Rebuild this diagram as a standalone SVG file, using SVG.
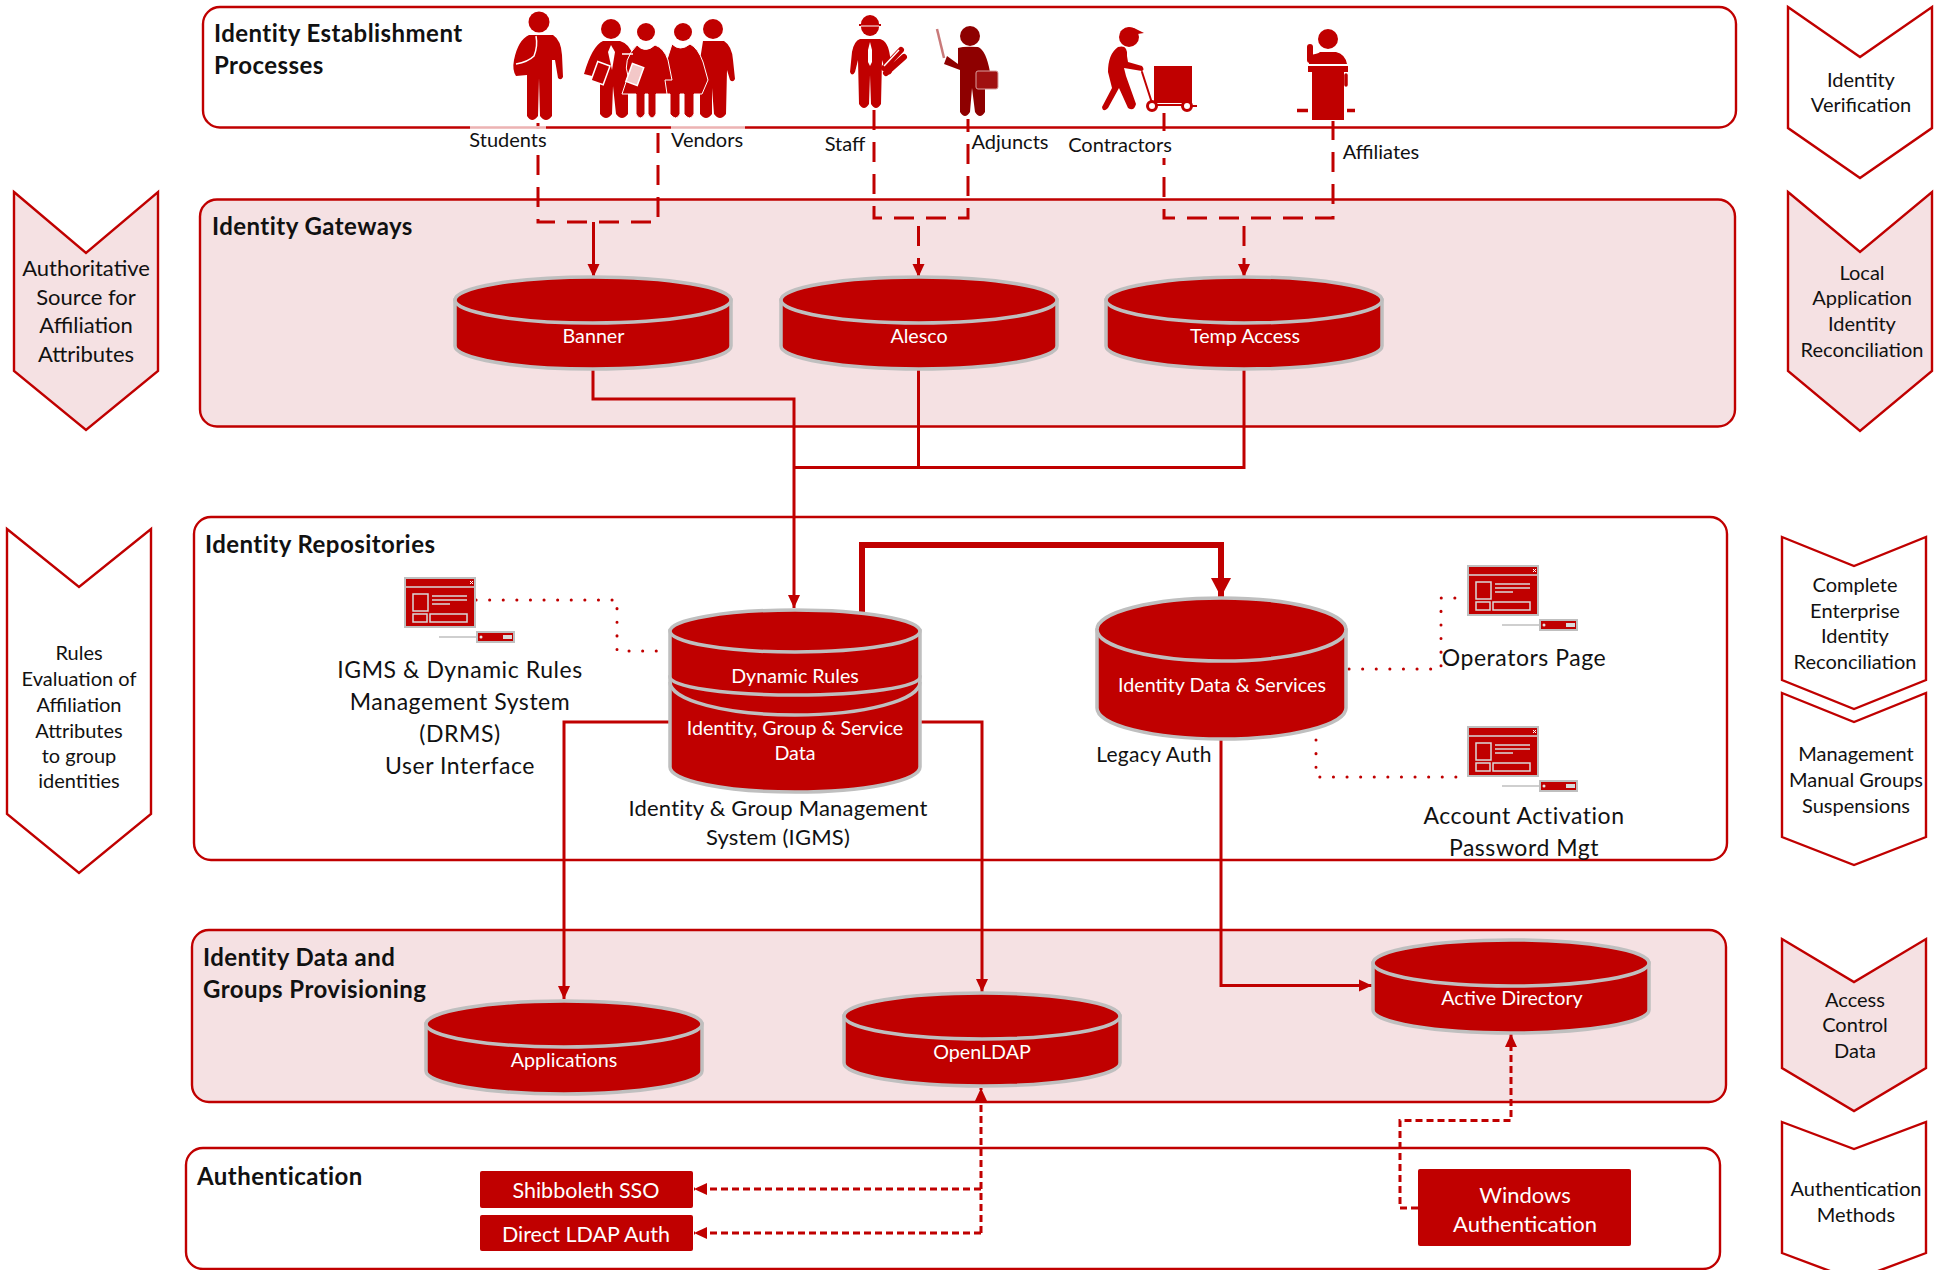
<svg xmlns="http://www.w3.org/2000/svg" width="1939" height="1270" viewBox="0 0 1939 1270">
<defs>
<marker id="ah" markerUnits="userSpaceOnUse" markerWidth="14" markerHeight="14" refX="13" refY="7" orient="auto"><path d="M0 1L13 7L0 13z" fill="#c00000"/></marker>
<marker id="ahb" markerUnits="userSpaceOnUse" markerWidth="22" markerHeight="22" refX="19" refY="10.5" orient="auto"><path d="M0 0.5L19 10.5L0 20.5z" fill="#c00000"/></marker>
<symbol id="win" overflow="visible">
<rect x="1" y="1" width="70" height="49" fill="#c00000" stroke="#bfbfbf" stroke-width="2"/>
<path d="M2 10H70" stroke="#d9d9d9" stroke-width="1.5"/>
<path d="M66 4l3 3m0-3l-3 3" stroke="#fff" stroke-width="1"/>
<rect x="9" y="17" width="15" height="17" fill="none" stroke="#d9d9d9" stroke-width="1.5"/>
<path d="M28 19H63M28 23H63M28 27H46" stroke="#d9d9d9" stroke-width="1.5"/>
<rect x="9" y="37" width="14" height="8" fill="none" stroke="#d9d9d9" stroke-width="1.5"/>
<rect x="26" y="37" width="37" height="8" fill="none" stroke="#d9d9d9" stroke-width="1.5"/>
<path d="M35 60H73" stroke="#bfbfbf" stroke-width="1.5"/>
<rect x="73" y="55" width="37" height="10" fill="#c00000" stroke="#bfbfbf" stroke-width="2"/>
<circle cx="77" cy="60" r="1.5" fill="#e6e6e6"/><rect x="99" y="58" width="9" height="4" fill="#d9d9d9"/>
</symbol>
</defs>
<style>
text{font-family:Lato,"Noto Sans",sans-serif;fill:#111;text-anchor:middle;font-size:20px}
.t{font-weight:700;font-size:24px;text-anchor:start;letter-spacing:.45px}
.w{fill:#fff;font-size:19.700px}
.b{font-size:23px;letter-spacing:.55px}
.box{stroke:#c00000;stroke-width:2.4;fill:#fff}
.chev{stroke:#c00000;stroke-width:2.4;fill:#fff;stroke-linejoin:miter}
.pk{fill:#f5e1e3}
.cyl{fill:#c00000;stroke:#bfbfbf;stroke-width:3.5}
.rim{fill:none;stroke:#bfbfbf;stroke-width:3.5}
.c{fill:none;stroke:#c00000;stroke-width:3}
.d{fill:none;stroke:#c00000;stroke-width:3;stroke-dasharray:20 12}
.s{fill:none;stroke:#c00000;stroke-width:3;stroke-dasharray:7 4}
.o{fill:none;stroke:#c00000;stroke-width:3;stroke-linecap:round;stroke-dasharray:0.1 13.5}
.r{fill:#c00000}
.l{fill:none;stroke:#c00000;stroke-linecap:round;stroke-linejoin:round}
.wl{fill:none;stroke:#fff;stroke-width:1.5}
.btn{fill:#c00000}
</style>

<g id="band-establishment"><rect class="box" x="203" y="7" width="1533" height="120.500" rx="17"/></g>
<g id="band-gateways"><rect class="box pk" x="200" y="199.500" width="1535" height="227" rx="17"/></g>
<g id="band-repositories"><rect class="box" x="194" y="517" width="1533" height="343" rx="17"/></g>
<g id="band-provisioning"><rect class="box pk" x="192" y="930" width="1534" height="172" rx="17"/></g>
<g id="band-authentication"><rect class="box" x="186" y="1148" width="1534" height="121" rx="17"/></g>

<g id="titles">
<text class="t" x="214" y="42">Identity Establishment</text>
<text class="t" x="214" y="74">Processes</text>
<text class="t" x="212" y="235">Identity Gateways</text>
<text class="t" x="205" y="553">Identity Repositories</text>
<text class="t" x="203" y="966">Identity Data and</text>
<text class="t" x="203" y="998">Groups Provisioning</text>
<text class="t" x="197" y="1185">Authentication</text>
</g>

<g id="connectors">
<path class="d" d="M538 123V222H658V123"/>
<path class="d" d="M874 110V218H968V119"/>
<path class="d" d="M1164 113V218H1333V121"/>
<path class="c" d="M593.500 222V277" marker-end="url(#ah)"/>
<path class="d" d="M918.500 226V277" marker-end="url(#ah)"/>
<path class="d" d="M1244 226V277" marker-end="url(#ah)"/>
<path class="c" d="M593 370V399H794V608" marker-end="url(#ah)"/>
<path class="c" d="M918.500 370V467.500H794"/>
<path class="c" d="M1244 370V467.500H918"/>
<path class="c" d="M862 612V545H1221V597" style="stroke-width:6" marker-end="url(#ahb)"/>
<path class="c" d="M669 722H564V999" marker-end="url(#ah)"/>
<path class="c" d="M920 722H982V992" marker-end="url(#ah)"/>
<path class="c" d="M1221 739V985.500H1372" marker-end="url(#ah)"/>
<path class="o" d="M476 600H617V651H660"/>
<path class="o" d="M1349 669H1441V598H1468"/>
<path class="o" d="M1316 740V777H1468"/>
<path class="s" d="M981 1233V1088" marker-end="url(#ah)"/>
<path class="s" d="M981 1189H694" marker-end="url(#ah)"/>
<path class="s" d="M981 1233H694" marker-end="url(#ah)"/>
<path class="s" d="M1418 1208H1400V1120.500H1511V1034" marker-end="url(#ah)"/>
</g>

<g id="label-masks" fill="#fff">
<rect x="470" y="126" width="76" height="3" opacity="0.7"/><rect x="671" y="126" width="74" height="3" opacity="0.7"/>
<rect x="470" y="129" width="76" height="26"/><rect x="1068" y="131" width="104" height="27"/>
</g>

<g id="students">
<circle class="r" cx="539" cy="22" r="10.500"/>
<path class="r" d="M529 35H553Q561 40 562 55L563 77Q561 81 558 78L555 60L552 60V116Q546 124 540 116L539 78L538 116Q532 124 527 116V75L516 76Q512 70 514 60Q518 40 529 35z"/>
<path d="M536 36Q538 46 534 56Q528 62 516 64" class="wl"/>
<text x="508" y="147">Students</text>
</g>

<g id="vendors">
<circle class="r" cx="611" cy="29" r="10"/><circle class="r" cx="646" cy="32" r="9"/><circle class="r" cx="683" cy="32" r="9"/><circle class="r" cx="713" cy="29" r="10"/>
<path class="r" d="M603 41H620Q630 44 633 56L628 90V114Q622 122 616 114L613 86L612 114Q606 122 600 114V78L584 74Q592 46 603 41z"/>
<path class="r" d="M703 41H724Q732 46 733 60L735 79Q733 83 730 80L727 70L726 114Q720 122 714 114L712 88V114Q706 122 700 114V60z"/>
<path class="r" d="M672 44Q680 52 690 44Q698 48 703 62L708 80L702 94H694V114Q690 122 684 114V94H680V114Q676 122 670 114V94H656z" stroke="#fff" stroke-width="1"/>
<path class="r" d="M637 45Q645 54 655 45Q664 48 668 60L672 80L665 80L667 94H656V114Q652 122 648 114V94H645V114Q640 122 636 114V94H622L628 76Q622 60 637 45z" stroke="#fff" stroke-width="1"/>
<path d="M611 45L608 52L612 70L615 52z" fill="#fff"/>
<path d="M633 54H622" stroke="#fff" stroke-width="1.500"/>
<rect x="594" y="63" width="13" height="20" fill="#c00000" stroke="#fff" stroke-width="1.500" transform="rotate(20 600 73)"/>
<rect x="629" y="65" width="12" height="19" fill="#f3c8c8" stroke="#fff" stroke-width="1.500" transform="rotate(20 635 74)"/>
<text x="707" y="147">Vendors</text>
</g>

<g id="staff">
<circle class="r" cx="870" cy="27" r="9"/>
<path class="r" d="M861 24A9 9 0 0 1 879 24H881V26H859V24z"/>
<path d="M861 26H879" stroke="#fff" stroke-width="1"/>
<path class="r" d="M860 39H880Q888 41 890 56L892 72Q889 77 886 72L882 60L881 104Q876 112 871 104L870 75L869 104Q864 112 859 104L858 60L855 72Q852 77 850 72L852 52Q854 41 860 39z"/>
<path d="M870 42L868 50L868 62L870 66L872 62L872 50z" fill="#fff"/>
<path d="M884 68L901 50M886 73L904 57" class="l" stroke-width="6"/>
<path d="M884 66L899 50" class="wl"/>
<text x="845" y="151">Staff</text>
</g>

<g id="adjuncts">
<circle cx="970" cy="36" r="10" fill="#8e0000"/>
<path d="M937 29L944 58" stroke="#c97a7a" stroke-width="2.500"/>
<path d="M947 56L958 64V48Q964 46 978 47Q986 50 990 72H985V112Q980 120 975 112L972 88L970 112Q965 120 960 112V70L944 64Z" fill="#8e0000"/>
<rect x="976" y="71" width="22" height="18" rx="2" fill="#a01010" stroke="#d9a0a0" stroke-width="1"/>
<text x="1010" y="149">Adjuncts</text>
</g>

<g id="contractors">
<circle class="r" cx="1129" cy="37" r="10"/><path class="r" d="M1120 32Q1126 26 1134 28L1144 33L1131 35z"/>
<path class="r" d="M1118 47Q1128 44 1127 56L1128 62L1142 66Q1145 70 1142 71L1124 68L1126 76L1136 104Q1134 112 1128 108L1119 88L1108 108Q1103 113 1102 107L1112 88L1108 72Q1108 54 1118 47z"/>
<path d="M1142 72L1152 103" class="l" stroke-width="2"/>
<rect class="r" x="1154" y="66" width="38" height="37"/>
<circle cx="1152" cy="106" r="4.500" fill="#fff" stroke="#c00000" stroke-width="3"/>
<circle cx="1187" cy="106" r="4.500" fill="#fff" stroke="#c00000" stroke-width="3"/>
<path d="M1157 105H1182M1192 106H1197" stroke="#c00000" stroke-width="2"/>
<text x="1120" y="152">Contractors</text>
</g>

<g id="affiliates">
<circle class="r" cx="1328" cy="39" r="10"/>
<path d="M1310 47V60" class="l" stroke-width="6"/>
<path class="r" d="M1309 55Q1318 54 1320 52H1336Q1345 54 1347 64H1309z"/>
<rect class="r" x="1308" y="66" width="40" height="6"/>
<rect class="r" x="1312" y="72" width="32" height="48"/>
<path d="M1346 75V85" class="l" stroke-width="3.500"/>
<path d="M1297 110.500H1308M1347 110.500H1355" stroke="#c00000" stroke-width="3.500"/>
<text x="1381" y="159">Affiliates</text>
</g>

<g id="banner"><path class="cyl" d="M455 300V346A138 23 0 0 0 731 346V300z"/><ellipse class="cyl" cx="593" cy="300" rx="138" ry="23"/><text class="w" x="593.500" y="343">Banner</text></g>
<g id="alesco"><path class="cyl" d="M781 300V346A138 23 0 0 0 1057 346V300z"/><ellipse class="cyl" cx="919" cy="300" rx="138" ry="23"/><text class="w" x="919" y="343">Alesco</text></g>
<g id="temp-access"><path class="cyl" d="M1106 300V346A138 23 0 0 0 1382 346V300z"/><ellipse class="cyl" cx="1244" cy="300" rx="138" ry="23"/><text class="w" x="1245" y="343">Temp Access</text></g>

<g id="igms">
<path class="cyl" d="M670 677V767A125 25 0 0 0 920 767V677z"/>
<path class="rim" d="M670 682A125 33 0 0 0 920 682"/>
<path class="cyl" d="M670 631V677A125 18 0 0 0 920 677V631z"/>
<ellipse class="cyl" cx="795" cy="631" rx="125" ry="21"/>
<text class="w" x="795" y="683">Dynamic Rules</text>
<text class="w" x="795" y="735">Identity, Group &amp; Service</text>
<text class="w" x="795" y="760">Data</text>
<text x="778" y="816" style="font-size:22px;letter-spacing:.2px">Identity &amp; Group Management</text>
<text x="778" y="845" style="font-size:22px;letter-spacing:.2px">System (IGMS)</text>
</g>
<g id="drms"><use href="#win" x="404" y="577"/>
<text class="b" x="460" y="678">IGMS &amp; Dynamic Rules</text>
<text class="b" x="460" y="710">Management System</text>
<text class="b" x="460" y="742">(DRMS)</text>
<text class="b" x="460" y="774">User Interface</text></g>

<g id="identity-data">
<path class="cyl" d="M1097 630V708A124.500 31 0 0 0 1346 708V630z"/>
<ellipse class="cyl" cx="1221.500" cy="629.500" rx="124.500" ry="31.500"/>
<text class="w" x="1222" y="692">Identity Data &amp; Services</text>
<text x="1154" y="762" style="font-size:21px;letter-spacing:.3px">Legacy Auth</text>
</g>
<g id="operators"><use href="#win" x="1467" y="565"/><text class="b" x="1524" y="666">Operators Page</text></g>
<g id="account"><use href="#win" x="1467" y="726"/><text class="b" x="1524" y="824">Account Activation</text><text class="b" x="1524" y="856">Password Mgt</text></g>

<g id="applications"><path class="cyl" d="M426 1024V1071A138 23 0 0 0 702 1071V1024z"/><ellipse class="cyl" cx="564" cy="1024" rx="138" ry="23"/><text class="w" x="564" y="1067">Applications</text></g>
<g id="openldap"><path class="cyl" d="M844 1016V1063A138 23 0 0 0 1120 1063V1016z"/><ellipse class="cyl" cx="982" cy="1016" rx="138" ry="23"/><text class="w" x="982" y="1059">OpenLDAP</text></g>
<g id="active-directory"><path class="cyl" d="M1373 963V1010A138 23 0 0 0 1649 1010V963z"/><ellipse class="cyl" cx="1511" cy="963" rx="138" ry="23"/><text class="w" x="1512" y="1005">Active Directory</text></g>

<g id="shibboleth"><rect class="btn" x="480" y="1171" width="213" height="37" rx="2"/><text class="w" style="font-size:21.500px" x="586" y="1198">Shibboleth SSO</text></g>
<g id="direct-ldap"><rect class="btn" x="480" y="1215" width="213" height="36" rx="2"/><text class="w" style="font-size:21.500px" x="586" y="1242">Direct LDAP Auth</text></g>
<g id="windows"><rect class="btn" x="1418" y="1169" width="213" height="77" rx="2"/><text class="w" style="font-size:22px" x="1525" y="1203">Windows</text><text class="w" style="font-size:22px" x="1525" y="1232">Authentication</text></g>

<g id="chevron-authoritative"><path class="chev pk" d="M14 192L86 253L158 192V371L86 430L14 371z"/>
<g style="font-size:22px"><text style="font-size:22px" x="86" y="276">Authoritative</text><text style="font-size:22px" x="86" y="305">Source for</text><text style="font-size:22px" x="86" y="333">Affiliation</text><text style="font-size:22px" x="86" y="362">Attributes</text></g></g>
<g id="chevron-rules"><path class="chev" d="M7 529L79 587L151 529V814L79 873L7 814z"/>
<text x="79" y="660">Rules</text><text x="79" y="686">Evaluation of</text><text x="79" y="712">Affiliation</text><text x="79" y="738">Attributes</text><text x="79" y="763">to group</text><text x="79" y="788">identities</text></g>
<g id="chevron-verification"><path class="chev" d="M1788 7L1860 57L1932 7V128L1860 178L1788 128z"/>
<text x="1861" y="87">Identity</text><text x="1861" y="112">Verification</text></g>
<g id="chevron-local"><path class="chev pk" d="M1788 192L1860 252L1932 192V371L1860 431L1788 371z"/>
<text x="1862" y="280">Local</text><text x="1862" y="305">Application</text><text x="1862" y="331">Identity</text><text x="1862" y="357">Reconciliation</text></g>
<g id="chevron-enterprise"><path class="chev" d="M1782 537L1854 566L1926 537V680L1854 709L1782 680z"/>
<text x="1855" y="592">Complete</text><text x="1855" y="618">Enterprise</text><text x="1855" y="643">Identity</text><text x="1855" y="669">Reconciliation</text></g>
<g id="chevron-management"><path class="chev" d="M1782 693L1854 722L1926 693V837L1854 865L1782 837z"/>
<text x="1856" y="761">Management</text><text x="1856" y="787">Manual Groups</text><text x="1856" y="813">Suspensions</text></g>
<g id="chevron-access"><path class="chev pk" d="M1782 939L1854 982L1926 939V1068L1854 1111L1782 1068z"/>
<text x="1855" y="1007">Access</text><text x="1855" y="1032">Control</text><text x="1855" y="1058">Data</text></g>
<g id="chevron-methods"><path class="chev" d="M1782 1122L1854 1149L1926 1122V1253L1854 1280L1782 1253z"/>
<text x="1856" y="1196">Authentication</text><text x="1856" y="1222">Methods</text></g>
</svg>
